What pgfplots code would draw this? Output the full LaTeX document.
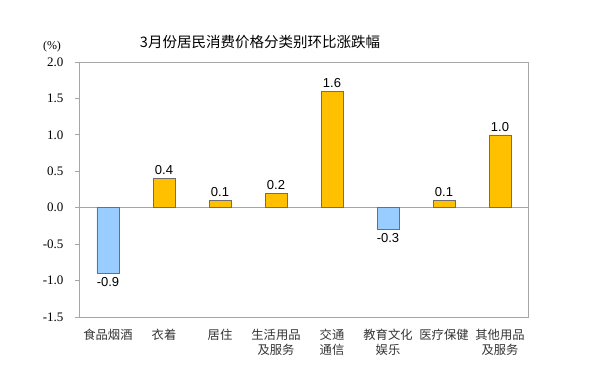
\documentclass[border=0pt]{standalone}
\usepackage{pgfplots}
\pgfplotsset{compat=1.18}
\usepackage{fontspec}
\setmainfont{Liberation Serif}
\newfontfamily\cjk{Noto Sans CJK SC}
\newfontfamily\arial{Liberation Sans}
\definecolor{baryel}{HTML}{FFC000}
\definecolor{barblu}{HTML}{99CCFF}
\definecolor{frm}{HTML}{A6A6A6}
\definecolor{edg}{HTML}{6E6E6E}
\begin{document}
\begin{tikzpicture}
\useasboundingbox (0pt,0pt) rectangle (589pt,380pt);
\begin{axis}[
  at={(80pt,63pt)}, anchor=south west,
  width=448pt, height=255pt, scale only axis,
  xmin=-0.5, xmax=7.5, ymin=-1.5, ymax=2.0,
  ytick={-1.5,-1.0,-0.5,0,0.5,1.0,1.5,2.0},
  yticklabel style={font=\fontsize{13}{13}\selectfont, xshift=-8pt, /pgf/number format/.cd,fixed,fixed zerofill,precision=1,assume math mode=true},
  xtick={0,...,7},
  xticklabels={食品烟酒,衣着,居住,生活用品\\及服务,交通\\通信,教育文化\\娱乐,医疗保健,其他用品\\及服务},
  xticklabel style={font=\cjk\fontsize{12.3}{15}\selectfont, align=center, anchor=north, yshift=-4pt, text=black!80},
  major x tick style={draw=none},
  tick align=outside, ytick pos=left,
  major tick length=5pt,
  every tick/.style={frm, line width=0.8pt},
  axis line style={frm, line width=1pt},
  ybar, bar width=22pt, bar shift=0pt,
  clip=false,
  extra y ticks={0}, extra y tick labels={},
  extra y tick style={grid=major, major grid style={frm, line width=1pt}, tick style={draw=none}},
  nodes near coords,
  nodes near coords style={font=\arial\fontsize{13}{13}\selectfont, /pgf/number format/.cd, fixed, fixed zerofill, precision=1, assume math mode=true},
]
\addplot[fill=baryel, draw=edg, line width=0.7pt] coordinates {(1,0.4) (2,0.1) (3,0.2) (4,1.6) (6,0.1) (7,1.0)};
\addplot[fill=barblu, draw=edg, line width=0.7pt, nodes near coords align={below}] coordinates {(0,-0.9) (5,-0.3)};
\end{axis}
\node[font=\cjk\fontsize{14.5}{15}\selectfont] at (260pt,338pt) {3月份居民消费价格分类别环比涨跌幅};
\node[font=\fontsize{12}{12}\selectfont] at (52pt,333pt) {(\%)};
\end{tikzpicture}
\end{document}
